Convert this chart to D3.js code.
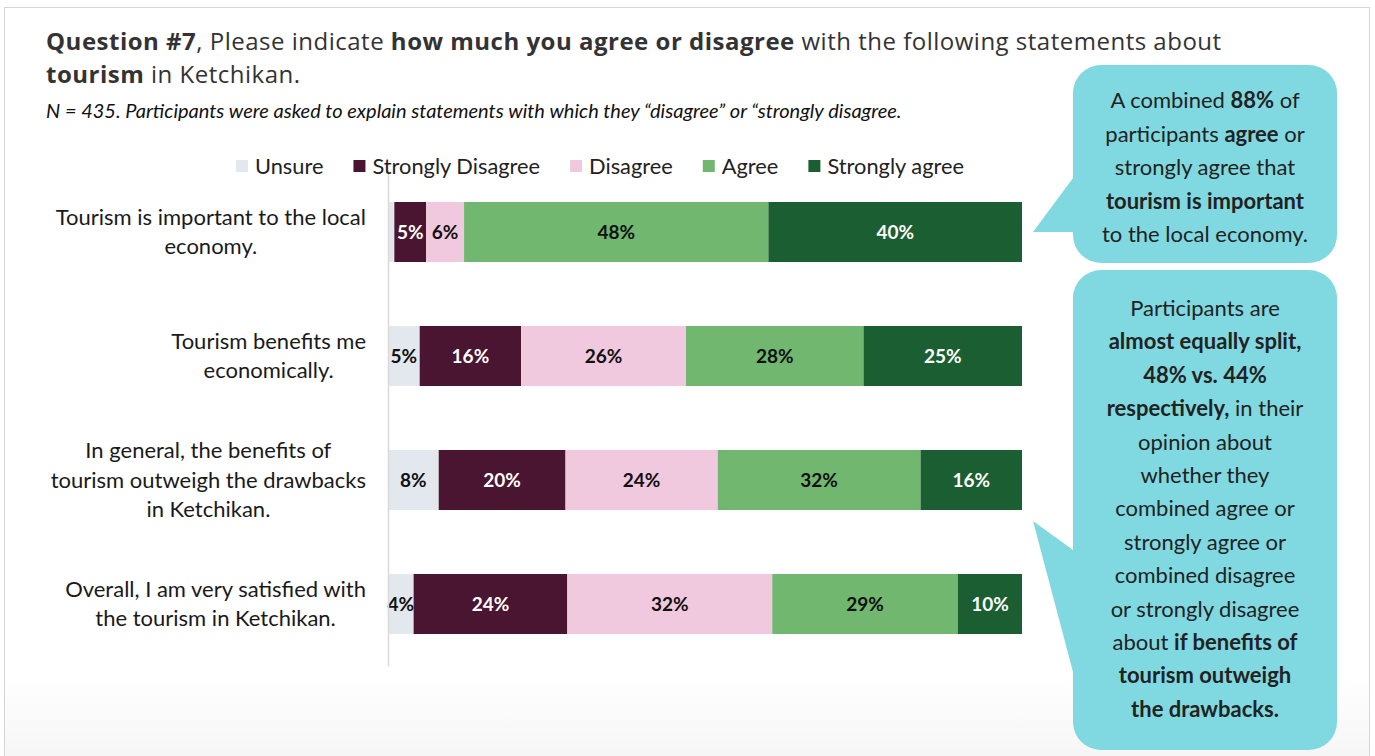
<!DOCTYPE html>
<html>
<head>
<meta charset="utf-8">
<script src="https://cdn.jsdelivr.net/npm/d3@7.9.0/dist/d3.min.js"></script>
<style>
  body { margin: 0; background: #fff; }
  svg { display: block; font-family: Lato, "Open Sans", sans-serif; }
</style>
</head>
<body>
<svg id="chart" width="1375" height="756"></svg>
<script>
// survey answers, percent of participants (row order = categories)
const categories = [
    "Tourism is important to the local economy.",
    "Tourism benefits me economically.",
    "In general, the benefits of tourism outweigh the drawbacks in Ketchikan.",
    "Overall, I am very satisfied with the tourism in Ketchikan."
];
const categoryLines = [
    ["Tourism is important to the local", "economy."],
    ["Tourism benefits me", "economically."],
    ["In general, the benefits of", "tourism outweigh the drawbacks", "in Ketchikan."],
    ["Overall, I am very satisfied with", "the tourism in Ketchikan."]
];
const series = ["Unsure", "Strongly Disagree", "Disagree", "Agree", "Strongly agree"];
const unsure = [1, 5, 8, 4];
const stronglyDisagree = [5, 16, 20, 24];
const disagree = [6, 26, 24, 32];
const agree = [48, 28, 32, 29];
const stronglyAgree = [40, 25, 16, 10];

const colors = ["#e3e7ee", "#4a1530", "#f0c9de", "#72b770", "#1b5e31"];
const labelColors = ["#111", "#fff", "#111", "#111", "#fff"];

const svg = d3.select('#chart');

// frame round the slide
svg.append('rect')
    .attr('x', 4.5).attr('y', 7.5).attr('width', 1365).attr('height', 760)
    .attr('fill', '#fff').attr('stroke', '#d6d6d6');

// faint blurred band at the bottom of the screenshot
let grad = svg.append('defs').append('linearGradient')
    .attr('id', 'fade').attr('x1', 0).attr('x2', 0).attr('y1', 0).attr('y2', 1);
grad.append('stop').attr('offset', '0%').attr('stop-color', '#fff');
grad.append('stop').attr('offset', '100%').attr('stop-color', '#f6f6f6');
svg.append('rect').attr('x', 5).attr('y', 675).attr('width', 1364).attr('height', 81)
    .attr('fill', 'url(#fade)');

// rich text helper: parts = [[text, bold], ...]
function richLine(g, x, y, parts, size, anchor) {
    let t = g.append('text').attr('x', x).attr('y', y)
        .attr('font-size', size).attr('text-anchor', anchor).attr('fill', '#222');
    parts.forEach(([s, b]) => {
        t.append('tspan').attr('font-weight', b ? 700 : 400).text(s);
    });
    return t;
}

// title
let titleG = svg.append('g')
    .attr('font-family', '"Open Sans", sans-serif')
    .attr('letter-spacing', 0.5);
richLine(titleG, 46, 50, [["Question #7", true], [", Please indicate ", false], ["how much you agree or disagree", true], [" with the following statements about", false]], 24, 'start')
    .attr('fill', '#333');
richLine(titleG, 46, 83, [["tourism", true], [" in Ketchikan.", false]], 24, 'start')
    .attr('fill', '#333');

svg.append('text')
    .attr('x', 46).attr('y', 118)
    .attr('font-size', 20).attr('font-style', 'italic')
    .attr('fill', '#111')
    .text('N = 435. Participants were asked to explain statements with which they \u201cdisagree\u201d or \u201cstrongly disagree.');

// stacked data
let rows = categories.map((c, i) => ({
    category: c,
    "Unsure": unsure[i],
    "Strongly Disagree": stronglyDisagree[i],
    "Disagree": disagree[i],
    "Agree": agree[i],
    "Strongly agree": stronglyAgree[i]
}));
let stacked = d3.stack().keys(series).offset(d3.stackOffsetExpand)(rows);

let x = d3.scaleLinear().domain([0, 1]).range([388, 1022]);
let y = d3.scaleBand().domain(categories).range([170, 666])
    .paddingInner(0.516).paddingOuter(0.258);
let color = d3.scaleOrdinal().domain(series).range(colors);

let layers = svg.append('g').selectAll('g')
    .data(stacked)
    .join('g')
    .attr('fill', (d) => color(d.key));

layers.selectAll('rect')
    .data((d) => d)
    .join('rect')
    .attr('x', (d) => x(d[0]))
    .attr('y', (d) => y(d.data.category))
    .attr('width', (d) => x(d[1]) - x(d[0]))
    .attr('height', y.bandwidth());

// value labels
stacked.forEach((layer, li) => {
    layer.forEach((d) => {
        let v = d.data[layer.key];
        if (v < 3) return;
        svg.append('text')
            .attr('x', (x(d[0]) + x(d[1])) / 2)
            .attr('y', y(d.data.category) + y.bandwidth() / 2)
            .attr('dy', '0.35em')
            .attr('text-anchor', 'middle')
            .attr('font-size', 19).attr('font-weight', 700)
            .attr('fill', labelColors[li])
            .text(v + '%');
    });
});

// category axis
let axis = svg.append('g')
    .attr('transform', 'translate(388,0)')
    .call(d3.axisLeft(y).tickSize(0).tickFormat(''));
axis.select('.domain').attr('stroke', '#d9d9d9').attr('stroke-width', 1.5);

categories.forEach((c, i) => {
    let lines = categoryLines[i];
    let g = svg.append('g').attr('font-size', 22).attr('fill', '#1a1a1a');
    let cy = y(c) + y.bandwidth() / 2;
    let texts = lines.map((ln, j) => g.append('text')
        .attr('y', cy + (j - (lines.length - 1) / 2) * 29.5)
        .attr('dy', '0.35em')
        .attr('text-anchor', 'middle')
        .text(ln));
    let w = d3.max(texts, (t) => t.node().getComputedTextLength());
    texts.forEach((t) => t.attr('x', 366 - w / 2));
});

// legend
let lx = 236;
series.forEach((s, i) => {
    svg.append('rect').attr('x', lx).attr('y', 160).attr('width', 12).attr('height', 12)
        .attr('fill', colors[i]);
    let t = svg.append('text').attr('x', lx + 19).attr('y', 166).attr('dy', '0.35em')
        .attr('font-size', 21.8).attr('fill', '#222').text(s);
    lx += 19 + t.node().getComputedTextLength() + 30;
});

// call-out bubbles
const bubbleFill = '#80d9e0';
function bubble(bx, by, bw, bh, tail) {
    let r = 28;
    let p = d3.path();
    p.moveTo(bx + r, by);
    p.lineTo(bx + bw - r, by);
    p.arcTo(bx + bw, by, bx + bw, by + r, r);
    p.lineTo(bx + bw, by + bh - r);
    p.arcTo(bx + bw, by + bh, bx + bw - r, by + bh, r);
    p.lineTo(bx + r, by + bh);
    p.arcTo(bx, by + bh, bx, by + bh - r, r);
    p.lineTo(bx, tail[2][1]);
    p.lineTo(tail[1][0], tail[1][1]);
    p.lineTo(bx, tail[0][1]);
    p.lineTo(bx, by + r);
    p.arcTo(bx, by, bx + r, by, r);
    p.closePath();
    svg.append('path').attr('d', p.toString()).attr('fill', bubbleFill);
}
bubble(1073, 65, 264, 198, [[1073, 178], [1033, 232], [1073, 232]]);
bubble(1073, 270, 264, 480, [[1073, 550], [1033, 521], [1073, 672]]);

const note1 = [
    [["A combined ", false], ["88%", true], [" of", false]],
    [["participants ", false], ["agree", true], [" or", false]],
    [["strongly agree that", false]],
    [["tourism is important", true]],
    [["to the local economy.", false]]
];
const note2 = [
    [["Participants are", false]],
    [["almost equally split,", true]],
    [["48% vs. 44%", true]],
    [["respectively,", true], [" in their", false]],
    [["opinion about", false]],
    [["whether they", false]],
    [["combined agree or", false]],
    [["strongly agree or", false]],
    [["combined disagree", false]],
    [["or strongly disagree", false]],
    [["about ", false], ["if benefits of", true]],
    [["tourism outweigh", true]],
    [["the drawbacks.", true]]
];
let notes = svg.append('g');
note1.forEach((parts, i) => richLine(notes, 1205, 108 + i * 33.5, parts, 22, 'middle'));
note2.forEach((parts, i) => richLine(notes, 1205, 316 + i * 33.4, parts, 22, 'middle'));
</script>
</body>
</html>
